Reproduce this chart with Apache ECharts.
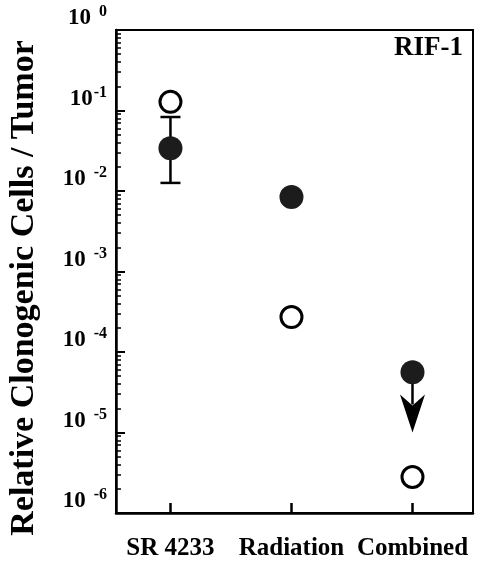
<!DOCTYPE html>
<html>
<head>
<meta charset="utf-8">
<script src="https://cdn.jsdelivr.net/npm/echarts@6/dist/echarts.min.js"></script>
<style>
html,body{margin:0;padding:0;background:#fff;}
#c{width:494px;height:565px;}
</style>
</head>
<body>
<div id="c"></div>
<script>
// ---- data ----
var categories = ['SR 4233', 'Radiation', 'Combined'];
var filledValues = [0.034, 0.0084, 5.6e-5];      // filled circles
var openValues = [0.128, 2.72e-4, 2.8e-6];       // open circles
var errLow = [0.0126];                           // error bar for SR 4233 filled
var errHigh = [0.083];
var errIndex = [0];
var arrowIndex = [2];                             // upper-limit arrow (Combined)
var arrowFrom = [5.6e-5];
var arrowTo = [1e-5];
var yTickValues = [1e-6, 1e-5, 1e-4, 1e-3, 1e-2, 1e-1, 1];
var yMinorTicks = [];
[1e-6, 1e-5, 1e-4, 1e-3, 1e-2, 1e-1].forEach(function (d) {
  for (var k = 2; k <= 9; k++) yMinorTicks.push(+(d * k).toPrecision(3));
});
var xTickValues = [0, 1, 2];

var FONT = "'Liberation Serif','Times New Roman',Times,serif";

var chart = echarts.init(document.getElementById('c'), null, {renderer: 'canvas'});

var option = {
  backgroundColor: '#fff',
  animation: false,
  grid: {left: 116, top: 30, right: 21, bottom: 52, show: true, borderColor: '#000', borderWidth: 2, backgroundColor: 'transparent'},
  xAxis: {
    type: 'value', min: -0.45, max: 2.5,
    axisLine: {show: true, onZero: false, lineStyle: {color: '#000', width: 2.5}},
    axisTick: {show: true, inside: true, length: 10, customValues: xTickValues, lineStyle: {color: '#000', width: 2.5}},
    axisLabel: {
      customValues: xTickValues, margin: 23,
      formatter: function (v) { return categories[Math.round(v)]; },
      fontFamily: FONT, fontWeight: 'bold', fontSize: 25, color: '#000'
    },
    splitLine: {show: false}
  },
  yAxis: [{
    type: 'log', logBase: 10, min: 1e-6, max: 1,
    axisLine: {show: true, onZero: false, lineStyle: {color: '#000', width: 2.5}},
    axisTick: {show: true, inside: true, length: 9, customValues: yTickValues, lineStyle: {color: '#000', width: 2}},
    axisLabel: {
      customValues: yTickValues, margin: 9, verticalAlign: 'bottom',
      formatter: function (v) {
        var e = Math.round(Math.log10(v));
        return (e === -1) ? '{b|10}{t|' + e + '}' : '{b|10}{s|' + e + '}';
      },
      rich: {
        b: {fontFamily: FONT, fontWeight: 'bold', fontSize: 23, color: '#000', verticalAlign: 'bottom'},
        s: {fontFamily: FONT, fontWeight: 'bold', fontSize: 16, color: '#000', verticalAlign: 'bottom', padding: [0, 0, 10, 8]},
        t: {fontFamily: FONT, fontWeight: 'bold', fontSize: 16, color: '#000', verticalAlign: 'bottom', padding: [0, 0, 10, 1]}
      }
    },
    splitLine: {show: false}
  }, {
    type: 'log', logBase: 10, min: 1e-6, max: 1, position: 'left',
    axisLine: {show: false, onZero: false},
    axisTick: {show: true, inside: true, length: 5, customValues: yMinorTicks, lineStyle: {color: '#000', width: 1.5}},
    axisLabel: {show: false},
    splitLine: {show: false}
  }],
  graphic: [{
    type: 'text', x: 24, y: 288, rotation: Math.PI / 2,
    style: {text: 'Relative Clonogenic Cells / Tumor', font: 'bold 34px ' + FONT, fill: '#000', textAlign: 'center', textVerticalAlign: 'middle'}
  }, {
    type: 'text', x: 463, y: 48,
    style: {text: 'RIF-1', font: 'bold 27px ' + FONT, fill: '#000', textAlign: 'right', textVerticalAlign: 'middle'}
  }],
  series: [{
    type: 'custom', name: 'errorbar', z: 2,
    data: errIndex.map(function (x, i) { return [x, errLow[i], errHigh[i]]; }),
    renderItem: function (params, api) {
      var lo = api.coord([api.value(0), api.value(1)]);
      var hi = api.coord([api.value(0), api.value(2)]);
      var w = 10;
      var st = {stroke: '#000', lineWidth: 2.5};
      return {type: 'group', children: [
        {type: 'line', shape: {x1: lo[0], y1: lo[1], x2: hi[0], y2: hi[1]}, style: st},
        {type: 'line', shape: {x1: lo[0] - w, y1: lo[1], x2: lo[0] + w, y2: lo[1]}, style: st},
        {type: 'line', shape: {x1: hi[0] - w, y1: hi[1], x2: hi[0] + w, y2: hi[1]}, style: st}
      ]};
    }
  }, {
    type: 'custom', name: 'arrow', z: 2,
    data: arrowIndex.map(function (x, i) { return [x, arrowFrom[i], arrowTo[i]]; }),
    renderItem: function (params, api) {
      var a = api.coord([api.value(0), api.value(1)]);
      var b = api.coord([api.value(0), api.value(2)]);
      var x = b[0], ty = b[1];
      return {type: 'group', children: [
        {type: 'line', shape: {x1: a[0], y1: a[1], x2: x, y2: ty - 28}, style: {stroke: '#000', lineWidth: 2.5}},
        {type: 'polygon', shape: {points: [[x, ty], [x - 12.5, ty - 38], [x, ty - 27], [x + 12.5, ty - 38]]}, style: {fill: '#000'}}
      ]};
    }
  }, {
    type: 'scatter', name: 'filled', z: 3,
    data: filledValues.map(function (v, i) { return [i, v]; }),
    symbol: 'circle', symbolSize: 24,
    itemStyle: {color: '#1c1c1c', opacity: 1}
  }, {
    type: 'scatter', name: 'open', z: 3,
    data: openValues.map(function (v, i) { return [i, v]; }),
    symbol: 'circle', symbolSize: 21,
    itemStyle: {color: '#fff', borderColor: '#000', borderWidth: 3, opacity: 1}
  }]
};
chart.setOption(option);
</script>
</body>
</html>
